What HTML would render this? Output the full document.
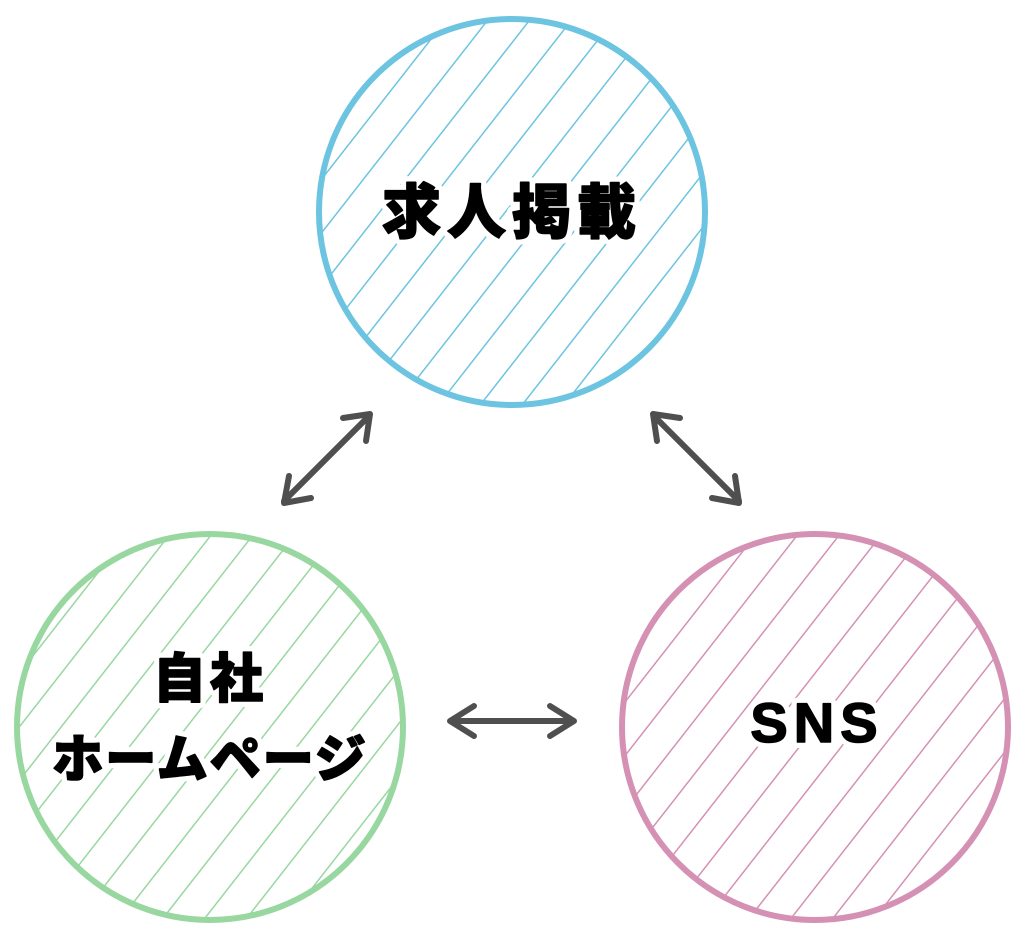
<!DOCTYPE html>
<html><head><meta charset="utf-8"><style>
html,body{margin:0;padding:0;background:#fff;}
svg{display:block;}
text{font-family:"Liberation Sans","Noto Sans CJK JP",sans-serif;font-weight:900;}
.h{fill:#fff;stroke:#fff;stroke-width:12;stroke-linejoin:round;}
.t{fill:#000;stroke:#000;stroke-width:1.6;stroke-linejoin:round;}
</style></head><body>
<svg width="1024" height="939" viewBox="0 0 1024 939" xmlns="http://www.w3.org/2000/svg">
<defs>
<pattern id="pb" width="33" height="40" patternUnits="userSpaceOnUse" patternTransform="rotate(38)"><line x1="0" y1="-1" x2="0" y2="41" stroke="#6cc4e0" stroke-width="3"/></pattern>
<pattern id="pg" width="33" height="40" patternUnits="userSpaceOnUse" patternTransform="rotate(38)"><line x1="0" y1="-1" x2="0" y2="41" stroke="#98d7a0" stroke-width="3"/></pattern>
<pattern id="pp" width="33" height="40" patternUnits="userSpaceOnUse" patternTransform="rotate(38)"><line x1="0" y1="-1" x2="0" y2="41" stroke="#d491b4" stroke-width="3"/></pattern>
</defs>
<circle cx="512" cy="212" r="193" fill="url(#pb)" stroke="#6cc4e0" stroke-width="6"/>
<circle cx="210" cy="727" r="193" fill="url(#pg)" stroke="#98d7a0" stroke-width="6"/>
<circle cx="815" cy="727" r="193" fill="url(#pp)" stroke="#d491b4" stroke-width="6"/>
<g class="h">
<text x="512" y="233" font-size="59" text-anchor="middle" letter-spacing="6">求人掲載</text>
<text x="210" y="697" font-size="53" text-anchor="middle" letter-spacing="4">自社</text>
<text x="210" y="777" font-size="51" text-anchor="middle" letter-spacing="2">ホームページ</text>
<text x="817" y="742" font-size="56" text-anchor="middle" letter-spacing="6">SNS</text>
</g>
<g class="t">
<text x="512" y="233" font-size="59" text-anchor="middle" letter-spacing="6">求人掲載</text>
<text x="210" y="697" font-size="53" text-anchor="middle" letter-spacing="4">自社</text>
<text x="210" y="777" font-size="51" text-anchor="middle" letter-spacing="2">ホームページ</text>
<text x="817" y="742" font-size="56" text-anchor="middle" letter-spacing="6">SNS</text>
</g>
<g stroke="#4f4f4f" stroke-width="6" stroke-linecap="round" stroke-linejoin="round" fill="none">
<line x1="284" y1="501" x2="369" y2="416"/>
<polyline points="343,418 370,414 366,441"/>
<polyline points="289,476 284,503 311,498"/>
<line x1="654" y1="416" x2="739" y2="501"/>
<polyline points="657,441 653,414 680,418"/>
<polyline points="712,498 739,503 735,476"/>
<line x1="452" y1="721" x2="573" y2="721"/>
<polyline points="474,706 450,721 474,736"/>
<polyline points="550,706 574,721 550,736"/>
</g>
</svg>
</body></html>
